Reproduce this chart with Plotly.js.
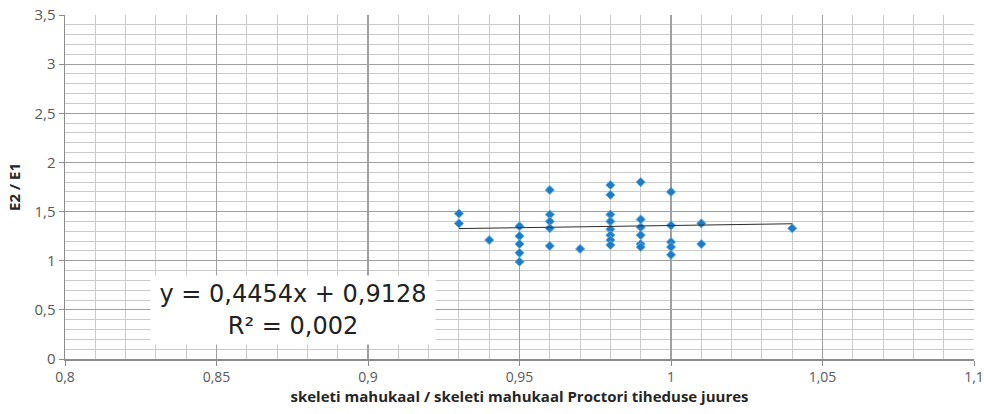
<!DOCTYPE html>
<html>
<head>
<meta charset="utf-8">
<script src="https://cdn.plot.ly/plotly-3.0.1.min.js"></script>
<style>html,body{margin:0;padding:0;background:#fff;}#chart{width:984px;height:414px;}</style>
</head>
<body>
<div id="chart"></div>
<script>
// Measured points (x = skeleti mahukaal ratio, y = E2/E1)
const xVals = [0.93,0.93, 0.94, 0.95,0.95,0.95,0.95,0.95, 0.96,0.96,0.96,0.96,0.96, 0.97,
  0.98,0.98,0.98,0.98,0.98,0.98,0.98,0.98, 0.99,0.99,0.99,0.99,0.99,0.99, 1.00,1.00,1.00,1.00,1.00, 1.01,1.01, 1.04];
const yVals = [1.48,1.38, 1.21, 1.35,1.25,1.17,1.08,0.99, 1.72,1.47,1.40,1.33,1.15, 1.12,
  1.77,1.67,1.47,1.40,1.32,1.26,1.21,1.16, 1.80,1.42,1.34,1.26,1.17,1.14, 1.70,1.36,1.19,1.14,1.06, 1.38,1.17, 1.33];
const slope = 0.4454;
const intercept = 0.9128;
const eqText = "y = 0,4454x + 0,9128<br>R² = 0,002";
const xTickVals = [0.8,0.85,0.9,0.95,1,1.05,1.1];
const yTickVals = [0,0.5,1,1.5,2,2.5,3,3.5];

const xMin = Math.min(...xVals), xMax = Math.max(...xVals);
const trendX = [xMin, xMax];
const trendY = trendX.map(v => slope * v + intercept);

const font = "Open Sans, Liberation Sans, sans-serif";
const data = [
  {x: xVals, y: yVals, type: 'scatter', mode: 'markers',
   marker: {symbol: 'diamond', size: 7, color: '#1f7cc4', line: {width: 1, color: '#5aafe8'}},
   hoverinfo: 'x+y', showlegend: false},
  {x: trendX, y: trendY, type: 'scatter', mode: 'lines',
   line: {color: '#2b2b2b', width: 1}, showlegend: false, hoverinfo: 'skip'}
];

const layout = {
  width: 984, height: 414,
  margin: {l: 65, r: 10, t: 15, b: 55},
  separators: ', ',
  paper_bgcolor: '#fff', plot_bgcolor: '#fff',
  showlegend: false,
  xaxis: {
    range: [0.8, 1.1], tickvals: xTickVals,
    showgrid: true, gridcolor: '#a0a0a0', gridwidth: 1.2,
    minor: {dtick: 0.01, tick0: 0.8, showgrid: true, gridcolor: '#cbcbcb', gridwidth: 1, ticks: ''},
    showline: true, linecolor: '#8c8c8c', linewidth: 1.5,
    ticks: 'outside', ticklen: 5, tickcolor: '#8c8c8c',
    zeroline: false,
    tickfont: {family: font, size: 14, color: '#595959'},
    title: {text: 'skeleti mahukaal / skeleti mahukaal Proctori tiheduse juures',
            font: {family: font, size: 15, color: '#262626', weight: 'bold'}, standoff: 6}
  },
  yaxis: {
    range: [0, 3.5], tickvals: yTickVals,
    showgrid: true, gridcolor: '#a0a0a0', gridwidth: 1.2,
    minor: {dtick: 0.1, tick0: 0, showgrid: true, gridcolor: '#cbcbcb', gridwidth: 1, ticks: ''},
    showline: true, linecolor: '#8c8c8c', linewidth: 1.5,
    ticks: 'outside', ticklen: 5, tickcolor: '#8c8c8c',
    zeroline: false,
    tickfont: {family: font, size: 15, color: '#595959'},
    title: {text: 'E2 / E1', font: {family: font, size: 15, color: '#262626', weight: 'bold'}, standoff: 10}
  },
  annotations: [{
    xref: 'x', yref: 'y', x: 0.8752, y: 0.5, text: eqText, showarrow: false,
    font: {family: 'DejaVu Sans, sans-serif', size: 24, color: '#222'}, bgcolor: '#ffffff',
    width: 282, height: 66, align: 'center', valign: 'middle'
  }]
};

Plotly.newPlot('chart', data, layout, {displayModeBar: false, staticPlot: true});
</script>
</body>
</html>
